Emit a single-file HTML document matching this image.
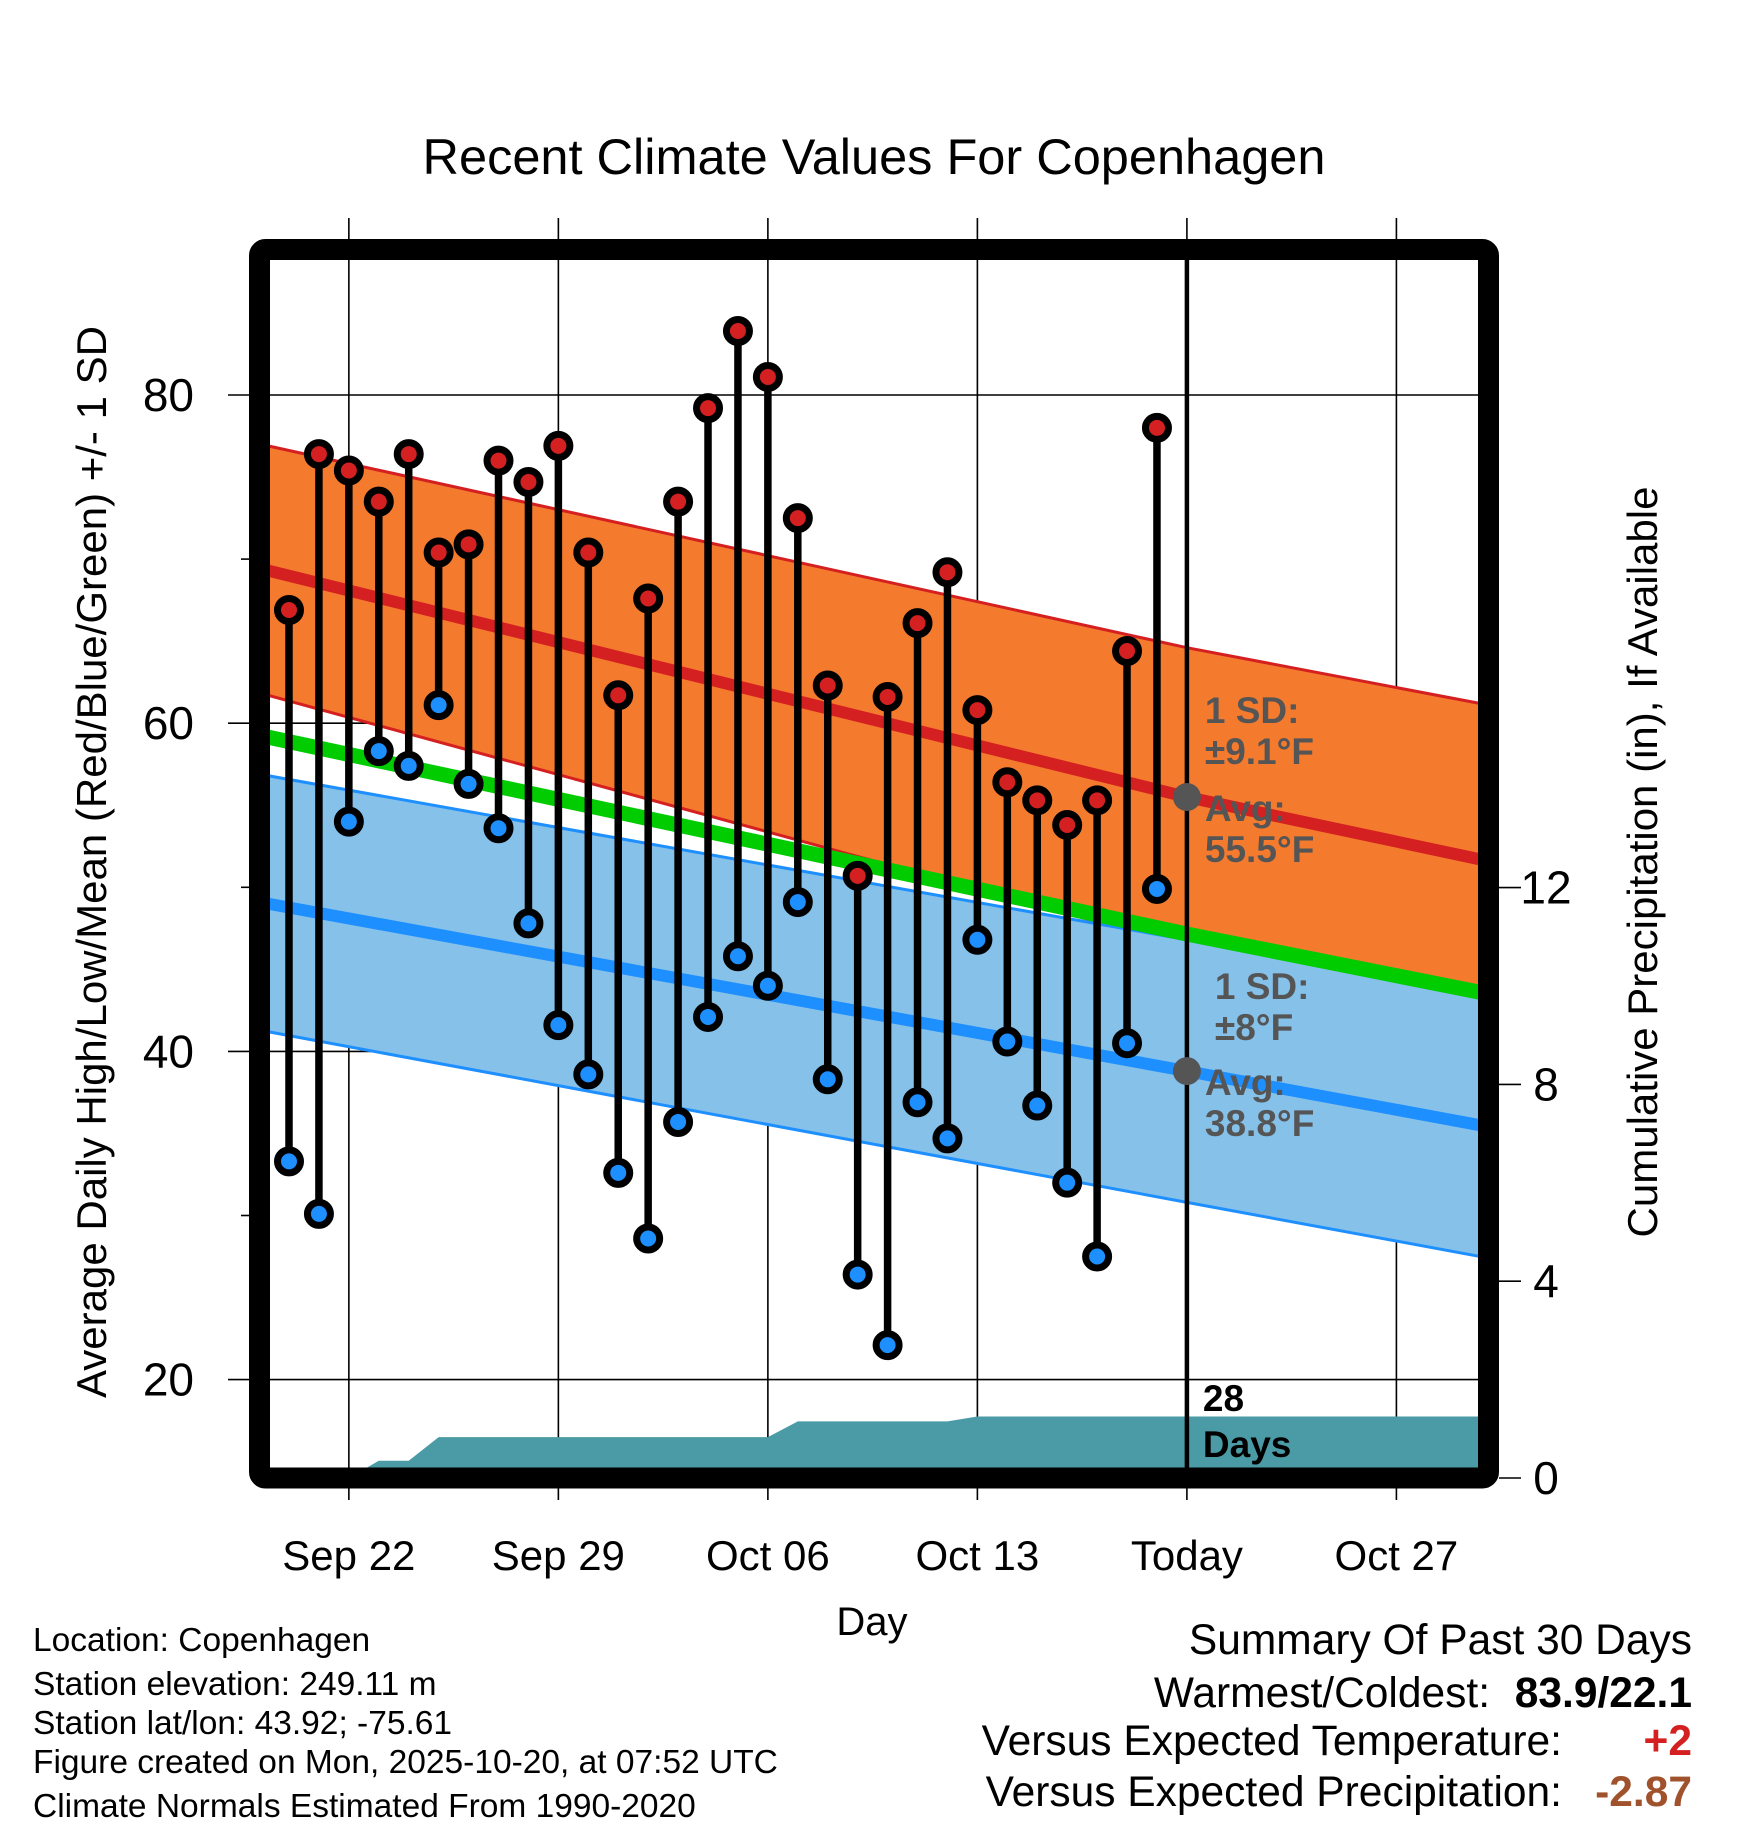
<!DOCTYPE html>
<html><head><meta charset="utf-8"><style>
html,body{margin:0;padding:0;background:#fff;}
svg{display:block;font-family:"Liberation Sans",Arial,sans-serif;}
</style></head><body>
<svg id="chart" width="1748" height="1828" viewBox="0 0 1748 1828" xmlns="http://www.w3.org/2000/svg">
<defs><clipPath id="plotclip"><rect x="270" y="260" width="1208" height="1208"/></clipPath></defs>
<text x="874" y="174" font-size="50.5" text-anchor="middle">Recent Climate Values For Copenhagen</text>
<g id="grid"></g>
<g id="plot" clip-path="url(#plotclip)"></g>
<g id="overlay"></g>
<rect x="259.5" y="249.5" width="1229" height="1228.5" rx="6" fill="none" stroke="#000" stroke-width="21"/>
<g id="axes"></g>
<text transform="translate(106,862) rotate(-90)" font-size="42" text-anchor="middle">Average Daily High/Low/Mean (Red/Blue/Green) +/- 1 SD</text>
<text transform="translate(1657,862) rotate(-90)" font-size="42" text-anchor="middle">Cumulative Precipitation (in), If Available</text>
<text x="872" y="1635" font-size="40" text-anchor="middle">Day</text>
<g font-size="33.5">
<text x="33" y="1651">Location: Copenhagen</text>
<text x="33" y="1695">Station elevation: 249.11 m</text>
<text x="33" y="1734">Station lat/lon: 43.92; -75.61</text>
<text x="33" y="1773">Figure created on Mon, 2025-10-20, at 07:52 UTC</text>
<text x="33" y="1817">Climate Normals Estimated From 1990-2020</text>
</g>
<g font-size="42.5" text-anchor="end">
<text x="1692" y="1654">Summary Of Past 30 Days</text>
<text x="1490" y="1707">Warmest/Coldest:</text>
<text x="1692" y="1707" font-weight="bold">83.9/22.1</text>
<text x="1562" y="1755">Versus Expected Temperature:</text>
<text x="1692" y="1755" font-weight="bold" fill="#d42020">+2</text>
<text x="1562" y="1806">Versus Expected Precipitation:</text>
<text x="1692" y="1806" font-weight="bold" fill="#a0522d">-2.87</text>
</g>
</svg>
<script>
// ---- data ----
const highs = [66.9,76.4,75.4,73.5,76.4,70.4,70.9,76.0,74.7,76.9,70.4,61.7,67.6,73.5,79.2,83.9,81.1,72.5,62.3,50.7,61.6,66.1,69.2,60.8,56.4,55.3,53.8,55.3,64.4,78.0];
const lows  = [33.3,30.1,54.0,58.3,57.4,61.1,56.3,53.6,47.8,41.6,38.6,32.6,28.6,35.7,42.1,45.8,44.0,49.1,38.3,26.4,22.1,36.9,34.7,46.8,40.6,36.7,32.0,27.5,40.5,49.9];
const precipCum = [0,0,0,0.35,0.35,0.83,0.83,0.83,0.83,0.83,0.83,0.83,0.83,0.83,0.83,0.83,0.83,1.15,1.15,1.15,1.15,1.15,1.15,1.25,1.25,1.25,1.25,1.25,1.25,1.25,1.25];
const normDays = [-0.7,30,39.8];
const normHigh = [69.3,55.5,51.7];
const normHighSD = [7.6,9.1,9.5];
const normLow = [49.0,38.8,35.5];
const normLowSD = [7.8,8.0,8.0];
const xTickLabels = ["Sep 22","Sep 29","Oct 06","Oct 13","Today","Oct 27"];
const xTickDays = [2,9,16,23,30,37];
const yTicks = [20,40,60,80];
const yMinorTicks = [30,50,70];
const pTicks = [0,4,8,12];
const todayDay = 30;
const todayHighAvg = 55.5, todayHighSD = "±9.1", todayLowAvg = 38.8, todayLowSD = "±8";
const precipDays = 28;

// ---- scales ----
const xS = d => 289 + d*29.93;
const yS = t => 395 + (80 - t)*16.41;
const pS = p => 1478 - p*49.2;
const NS = "http://www.w3.org/2000/svg";
function mk(tag, parent, attrs){const e=document.createElementNS(NS,tag);for(const k in attrs)e.setAttribute(k,attrs[k]);parent.appendChild(e);return e;}
const grid=document.getElementById('grid'), plot=document.getElementById('plot'), overlay=document.getElementById('overlay'), axes=document.getElementById('axes');

xTickDays.forEach((d,i)=>{
  const l=mk('line',grid,{x1:xS(d),x2:xS(d),y1:218,y2:1500,stroke:'#000','stroke-width':1.6});
  
  
  const t=mk('text',axes,{x:xS(d),y:1570,'font-size':42,'text-anchor':'middle'});
  t.textContent=xTickLabels[i];
  
  
});
yTicks.forEach(v=>{
  const l=mk('line',grid,{x1:228,x2:1478,y1:yS(v),y2:yS(v),stroke:'#000','stroke-width':1.6});
  
  
  const t=mk('text',axes,{x:194,y:yS(v)+16,'font-size':46,'text-anchor':'end'});
  t.textContent=v;
  
  
});
yMinorTicks.forEach(v=>{
  const l=mk('line',axes,{x1:241,x2:250,y1:yS(v),y2:yS(v),stroke:'#000','stroke-width':1.6});
  
  
});
pTicks.forEach(v=>{
  const l=mk('line',axes,{x1:1499,x2:1521,y1:pS(v),y2:pS(v),stroke:'#000','stroke-width':1.6});
  
  
  const t=mk('text',axes,{x:1546,y:pS(v)+16,'font-size':46,'text-anchor':'middle'});
  t.textContent=v;
  
  
});

function bandPts(mean, sd, sign){return normDays.map((d,i)=>xS(d)+','+yS(mean[i]+sign*sd[i]));}
function meanPts(fn){return normDays.map((d,i)=>xS(d)+','+yS(fn(i)));}
const hiUp=bandPts(normHigh,normHighSD,1), hiDn=bandPts(normHigh,normHighSD,-1);
const hb=mk('polygon',plot,{points:hiUp.concat(hiDn.slice().reverse()).join(' '),fill:'#f47a2e'});


[hiUp,hiDn].forEach(p=>{const l=mk('polyline',plot,{points:p.join(' '),fill:'none',stroke:'#d42020','stroke-width':3});
  
  });
const loUp=bandPts(normLow,normLowSD,1), loDn=bandPts(normLow,normLowSD,-1);
const lb=mk('polygon',plot,{points:loUp.concat(loDn.slice().reverse()).join(' '),fill:'#85c1e9'});


[loUp,loDn].forEach(p=>{const l=mk('polyline',plot,{points:p.join(' '),fill:'none',stroke:'#1e8fff','stroke-width':3});
  
  });
const gm=mk('polyline',plot,{points:meanPts(i=>(normHigh[i]+normLow[i])/2).join(' '),fill:'none',stroke:'#00cc00','stroke-width':15});


const rm=mk('polyline',plot,{points:meanPts(i=>normHigh[i]).join(' '),fill:'none',stroke:'#d42020','stroke-width':12});


const bm=mk('polyline',plot,{points:meanPts(i=>normLow[i]).join(' '),fill:'none',stroke:'#1e8fff','stroke-width':12});



let pp=[xS(-1)+','+pS(0)];
precipCum.forEach((v,i)=>pp.push(xS(i)+','+pS(v)));
pp.push(xS(45)+','+pS(precipCum[precipCum.length-1]));
pp.push(xS(45)+','+pS(0));
const pa=mk('polygon',plot,{points:pp.join(' '),fill:'#4a9ba5'});



const tl=mk('line',overlay,{x1:xS(todayDay),x2:xS(todayDay),y1:260,y2:1468,stroke:'#000','stroke-width':4.5});



highs.forEach((h,i)=>{
  const s=mk('line',overlay,{x1:xS(i),x2:xS(i),y1:yS(h),y2:yS(lows[i]),stroke:'#000','stroke-width':7.5});
  
  
});
highs.forEach((h,i)=>{
  const c=mk('circle',overlay,{cx:xS(i),cy:yS(h),r:11.5,fill:'#d42020',stroke:'#000','stroke-width':7});
  
  
  const c2=mk('circle',overlay,{cx:xS(i),cy:yS(lows[i]),r:11.5,fill:'#1e8fff',stroke:'#000','stroke-width':7});
  
  
});
[todayHighAvg,todayLowAvg].forEach(v=>{
  const c=mk('circle',overlay,{cx:xS(todayDay),cy:yS(v),r:14,fill:'#555'});
  
  
});

function ann(txt,x,y,fill,name){const t=mk('text',overlay,{x:x,y:y,'font-size':37,'font-weight':'bold',fill:fill});t.textContent=txt;
  
  }
const ax=xS(todayDay)+18;
ann('1 SD:',ax,yS(todayHighAvg)-74,'#555','high-sd-label');
ann(todayHighSD+'°F',ax,yS(todayHighAvg)-33,'#555','high-sd-value');
ann('Avg:',ax,yS(todayHighAvg)+24,'#555','high-avg-label');
ann(todayHighAvg.toFixed(1)+'°F',ax,yS(todayHighAvg)+65,'#555','high-avg-value');
ann('1 SD:',ax+10,yS(todayLowAvg)-72,'#555','low-sd-label');
ann(todayLowSD+'°F',ax+10,yS(todayLowAvg)-31,'#555','low-sd-value');
ann('Avg:',ax,yS(todayLowAvg)+24,'#555','low-avg-label');
ann(todayLowAvg.toFixed(1)+'°F',ax,yS(todayLowAvg)+65,'#555','low-avg-value');
ann(String(precipDays),ax-2,1411,'#000','precip-days-number');
ann('Days',ax-2,1457,'#000','precip-days-label');
</script>
</body></html>
